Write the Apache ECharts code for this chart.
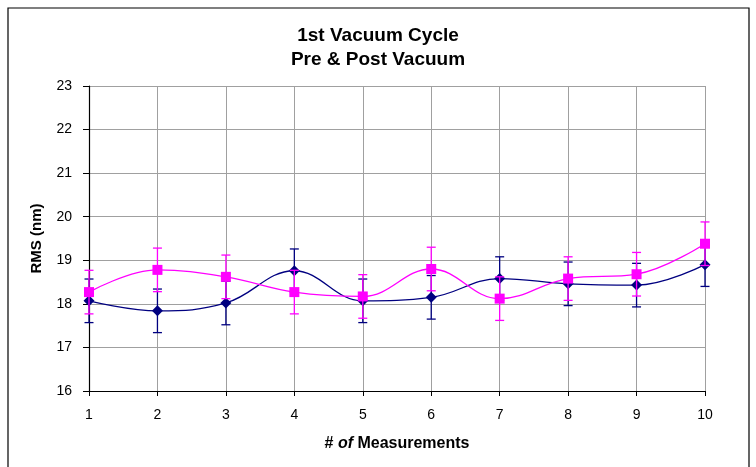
<!DOCTYPE html>
<html>
<head>
<meta charset="utf-8">
<script src="https://cdn.jsdelivr.net/npm/echarts@6/dist/echarts.min.js"></script>
<style>html,body{margin:0;padding:0;background:#fff;}#c{width:756px;height:467px;}</style>
</head>
<body>
<div id="c"></div>
<script>
const measurements = [1, 2, 3, 4, 5, 6, 7, 8, 9, 10];
const preVacuum = [18.07, 17.84, 18.02, 18.76, 18.07, 18.15, 18.58, 18.46, 18.43, 18.9];
const preErr = [0.5, 0.5, 0.5, 0.5, 0.5, 0.5, 0.5, 0.5, 0.5, 0.5];
const postVacuum = [18.27, 18.78, 18.62, 18.27, 18.17, 18.8, 18.12, 18.58, 18.68, 19.38];
const postErr = [0.5, 0.5, 0.5, 0.5, 0.5, 0.5, 0.5, 0.5, 0.5, 0.5];
const yTicks = [16, 17, 18, 19, 20, 21, 22, 23];

const chart = echarts.init(document.getElementById('c'));
const font = 'Liberation Sans, Arial, sans-serif';

function errSeries(vals, errs, color) {
  return {
    type: 'custom',
    silent: true,
    z: 3,
    data: measurements.map((m, i) => [m, vals[i] - errs[i], vals[i] + errs[i]]),
    renderItem: function (params, api) {
      const lo = api.coord([api.value(0), api.value(1)]);
      const hi = api.coord([api.value(0), api.value(2)]);
      const w = 4.5;
      const st = { stroke: color, lineWidth: 1.3 };
      return {
        type: 'group',
        children: [
          { type: 'line', shape: { x1: lo[0], y1: lo[1], x2: hi[0], y2: hi[1] }, style: st },
          { type: 'line', shape: { x1: lo[0] - w, y1: lo[1], x2: lo[0] + w, y2: lo[1] }, style: st },
          { type: 'line', shape: { x1: hi[0] - w, y1: hi[1], x2: hi[0] + w, y2: hi[1] }, style: st }
        ]
      };
    }
  };
}

chart.setOption({
  animation: false,
  backgroundColor: '#fff',
  graphic: [{
    type: 'rect', shape: { x: 8, y: 8, width: 741, height: 470 },
    style: { fill: 'none', stroke: '#000', lineWidth: 1.2 }, z: -1
  }],
  title: {
    text: '1st Vacuum Cycle\nPre & Post Vacuum',
    left: 'center', top: 19,
    textStyle: { fontFamily: font, fontSize: 19, fontWeight: 'bold', color: '#000', lineHeight: 24 }
  },
  grid: { left: 89, right: 51, top: 86, bottom: 76 },
  xAxis: {
    type: 'value', min: 1, max: 10, interval: 1,
    name: '{b|# }{i|of}{b| Measurements}',
    nameLocation: 'middle', nameGap: 45,
    nameTextStyle: { rich: {
      b: { fontFamily: font, fontSize: 16, fontWeight: 'bold', color: '#000' },
      i: { fontFamily: font, fontSize: 16, fontWeight: 'bold', fontStyle: 'italic', color: '#000' }
    } },
    axisLine: { show: true, onZero: false, lineStyle: { color: '#000', width: 1.2 } },
    axisTick: { show: true, length: 5, lineStyle: { color: '#000' } },
    axisLabel: { fontFamily: font, fontSize: 14, color: '#000', margin: 17 },
    splitLine: { show: true, lineStyle: { color: '#a0a0a0', width: 1 } }
  },
  yAxis: {
    type: 'value', min: yTicks[0], max: yTicks[yTicks.length - 1], interval: 1,
    name: 'RMS (nm)', nameLocation: 'middle', nameGap: 45,
    nameTextStyle: { fontFamily: font, fontSize: 15, fontWeight: 'bold', color: '#000' },
    axisLine: { show: true, lineStyle: { color: '#000', width: 1.2 } },
    axisTick: { show: true, length: 6, lineStyle: { color: '#000' } },
    axisLabel: { fontFamily: font, fontSize: 14, color: '#000', margin: 17 },
    splitLine: { show: true, lineStyle: { color: '#a0a0a0', width: 1 } }
  },
  series: [
    {
      name: 'Pre', type: 'line', smooth: 0.4, z: 2,
      data: measurements.map((m, i) => [m, preVacuum[i]]),
      symbol: 'diamond', symbolSize: 11,
      lineStyle: { color: '#000080', width: 1.3 },
      itemStyle: { color: '#000080' }
    },
    errSeries(preVacuum, preErr, '#000080'),
    {
      name: 'Post', type: 'line', smooth: 0.4, z: 4,
      data: measurements.map((m, i) => [m, postVacuum[i]]),
      symbol: 'rect', symbolSize: 10,
      lineStyle: { color: '#ff00ff', width: 1.3 },
      itemStyle: { color: '#ff00ff' }
    },
    errSeries(postVacuum, postErr, '#ff00ff')
  ]
});
</script>
</body>
</html>
